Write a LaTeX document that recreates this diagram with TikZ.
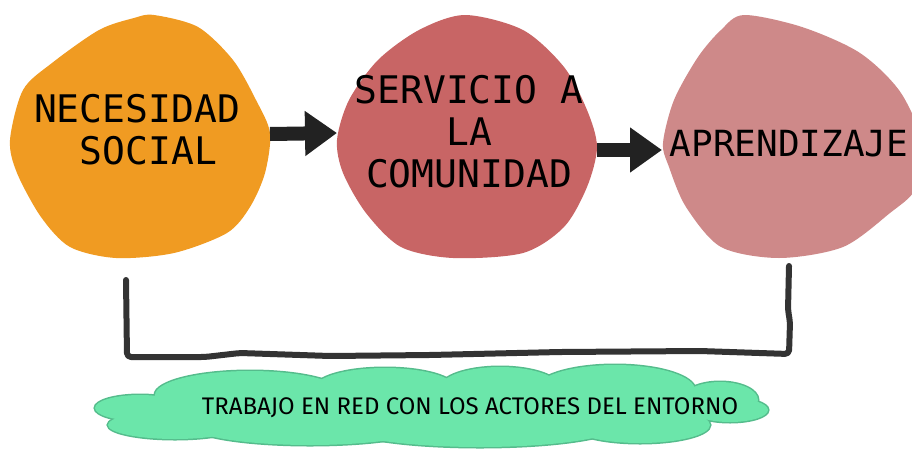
\documentclass[tikz,border=0pt]{standalone}
\usepackage{fontspec}
\usepackage{tikz}
\usetikzlibrary{arrows.meta}
\newfontfamily\monofont{DejaVu Sans Mono}
\newfontfamily\nubefont{Fira Sans}
\definecolor{naranja}{HTML}{F09B22}
\definecolor{rojo}{HTML}{C86565}
\definecolor{rosa}{HTML}{CE8989}
\definecolor{verde}{HTML}{6BE6AA}
\definecolor{verdeborde}{HTML}{55BC8C}
\definecolor{tinta}{HTML}{222222}
\definecolor{raya}{HTML}{333333}

\begin{document}
\begin{tikzpicture}
[x=1pt,y=-1pt,
 etiq/.style={align=center,inner sep=0pt,font=\monofont\fontsize{38}{42}\selectfont},
 flecha/.style={tinta,line width=14pt,-{Triangle[length=32pt,width=43pt]}},
 corchete/.style={raya,line width=6pt,line cap=round,line join=round,rounded corners=4pt}]
\useasboundingbox (0,0) rectangle (912,450);
\clip (0,0) rectangle (912,450);

% manchas
\fill[naranja] plot[smooth cycle] coordinates {(154,15) (198,27) (233,60) (256,100) (270,133) (265,173) (250,207) (227,233) (174,253) (116,258) (70,247) (41,217) (17,173) (10,140) (23,90) (52,63) (99,30) (134,18)};
\fill[rojo] plot[smooth cycle] coordinates {(465,15) (523,30) (564,67) (587,110) (597,147) (587,187) (564,227) (523,253) (453,258) (401,247) (366,213) (343,173) (337,140) (349,100) (378,60) (419,30)};
\fill[rosa] plot[smooth cycle] coordinates {(744,15) (802,27) (860,53) (901,93) (925,150) (915,190) (890,213) (843,247) (779,258) (721,247) (686,207) (669,167) (663,143) (674,100) (698,57) (721,30)};

\node[etiq] (v1) at (137,130) {NECESIDAD\\\hspace*{0.6em}SOCIAL};
\node[etiq] (v2) at (469,132) {SERVICIO A\\LA\\COMUNIDAD};
\node[etiq,font=\monofont\fontsize{36}{42}\selectfont] (v3) at (789,144) {APRENDIZAJE};

% flechas
\coordinate (v4) at (270,134);
\coordinate (v5) at (337,133);
\coordinate (v6) at (597,150);
\coordinate (v7) at (662,150);
\foreach \from/\to in {v4/v5,v6/v7}
\draw[flecha] (\from) -- (\to);

% corchete
\coordinate (v8) at (126,280);
\coordinate (v9) at (789,266);
\draw[corchete] (v8) -- (127,357) -- (205,357) -- (240,353) -- (330,356) -- (430,355) -- (560,352) -- (700,351) -- (789,354) -- (790,322) -- (788,310) -- (v9);

% nube
\foreach \c/\rx/\ry in {{(140,408)}/45/13,{(175,425)}/67/14,{(250,395)}/95/24,{(385,388)}/70/20,{(500,388)}/60/21,{(615,390)}/80/25,{(720,400)}/38/18,{(730,410)}/38/12,{(640,425)}/70/18,{(480,425)}/140/22,{(310,425)}/120/20,{(450,408)}/270/28}
\draw[verdeborde,line width=3pt] \c ellipse[x radius=\rx pt,y radius=\ry pt];
\foreach \c/\rx/\ry in {{(140,408)}/45/13,{(175,425)}/67/14,{(250,395)}/95/24,{(385,388)}/70/20,{(500,388)}/60/21,{(615,390)}/80/25,{(720,400)}/38/18,{(730,410)}/38/12,{(640,425)}/70/18,{(480,425)}/140/22,{(310,425)}/120/20,{(450,408)}/270/28}
\fill[verde] \c ellipse[x radius=\rx pt,y radius=\ry pt];
\node[font=\nubefont\fontsize{24}{28}\selectfont,inner sep=0pt] (v10) at (470,408) {TRABAJO EN RED CON LOS ACTORES DEL ENTORNO};
\end{tikzpicture}
\end{document}
